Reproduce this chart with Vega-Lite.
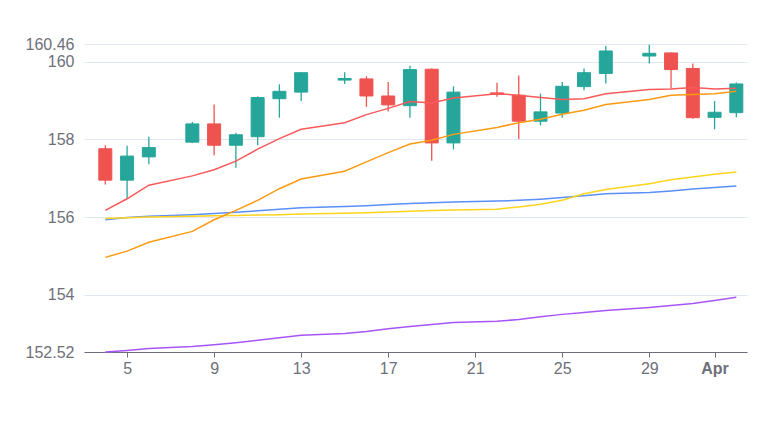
{
  "$schema": "https://vega.github.io/schema/vega-lite/v6.json",
  "autosize": {"type": "none"},
  "padding": {"left": 84, "top": 44, "right": 23, "bottom": 92},
  "width": 663,
  "height": 308,
  "background": "#ffffff",
  "config": {"view": {"stroke": null}, "font": "Liberation Sans"},
  "data": {"values": [
    {"date": "2024-03-04", "open": 157.76, "high": 157.85, "low": 156.84, "close": 156.95, "ma5": 156.17, "ma10": 154.96, "ma20": 155.96, "ma30": 155.93, "ma60": 152.52},
    {"date": "2024-03-05", "open": 156.95, "high": 157.84, "low": 156.47, "close": 157.57, "ma5": 156.47, "ma10": 155.12, "ma20": 155.98, "ma30": 155.99, "ma60": 152.56},
    {"date": "2024-03-06", "open": 157.55, "high": 158.07, "low": 157.36, "close": 157.79, "ma5": 156.82, "ma10": 155.35, "ma20": 156.0, "ma30": 156.02, "ma60": 152.61},
    {"date": "2024-03-08", "open": 157.93, "high": 158.45, "low": 157.91, "close": 158.4, "ma5": 157.06, "ma10": 155.63, "ma20": 156.02, "ma30": 156.06, "ma60": 152.66},
    {"date": "2024-03-09", "open": 158.4, "high": 158.9, "low": 157.59, "close": 157.85, "ma5": 157.22, "ma10": 155.93, "ma20": 156.03, "ma30": 156.09, "ma60": 152.71},
    {"date": "2024-03-10", "open": 157.85, "high": 158.17, "low": 157.27, "close": 158.12, "ma5": 157.44, "ma10": 156.17, "ma20": 156.04, "ma30": 156.12, "ma60": 152.76},
    {"date": "2024-03-11", "open": 158.07, "high": 159.11, "low": 157.85, "close": 159.08, "ma5": 157.75, "ma10": 156.43, "ma20": 156.05, "ma30": 156.16, "ma60": 152.82},
    {"date": "2024-03-12", "open": 159.05, "high": 159.42, "low": 158.56, "close": 159.24, "ma5": 158.02, "ma10": 156.73, "ma20": 156.06, "ma30": 156.2, "ma60": 152.89},
    {"date": "2024-03-13", "open": 159.22, "high": 159.74, "low": 158.99, "close": 159.72, "ma5": 158.26, "ma10": 156.98, "ma20": 156.08, "ma30": 156.24, "ma60": 152.95},
    {"date": "2024-03-15", "open": 159.53, "high": 159.73, "low": 159.43, "close": 159.57, "ma5": 158.43, "ma10": 157.18, "ma20": 156.1, "ma30": 156.27, "ma60": 153.0},
    {"date": "2024-03-16", "open": 159.56, "high": 159.63, "low": 158.84, "close": 159.12, "ma5": 158.64, "ma10": 157.42, "ma20": 156.11, "ma30": 156.29, "ma60": 153.05},
    {"date": "2024-03-17", "open": 159.12, "high": 159.48, "low": 158.72, "close": 158.89, "ma5": 158.8, "ma10": 157.66, "ma20": 156.13, "ma30": 156.32, "ma60": 153.12},
    {"date": "2024-03-18", "open": 158.87, "high": 159.9, "low": 158.56, "close": 159.8, "ma5": 158.98, "ma10": 157.88, "ma20": 156.15, "ma30": 156.35, "ma60": 153.18},
    {"date": "2024-03-19", "open": 159.81, "high": 159.83, "low": 157.45, "close": 157.91, "ma5": 158.94, "ma10": 157.98, "ma20": 156.17, "ma30": 156.37, "ma60": 153.23},
    {"date": "2024-03-20", "open": 157.91, "high": 159.37, "low": 157.74, "close": 159.22, "ma5": 159.07, "ma10": 158.13, "ma20": 156.18, "ma30": 156.39, "ma60": 153.28},
    {"date": "2024-03-22", "open": 159.2, "high": 159.46, "low": 159.1, "close": 159.16, "ma5": 159.18, "ma10": 158.31, "ma20": 156.2, "ma30": 156.41, "ma60": 153.31},
    {"date": "2024-03-23", "open": 159.14, "high": 159.65, "low": 158.01, "close": 158.47, "ma5": 159.14, "ma10": 158.43, "ma20": 156.26, "ma30": 156.43, "ma60": 153.36},
    {"date": "2024-03-24", "open": 158.47, "high": 159.18, "low": 158.36, "close": 158.71, "ma5": 159.08, "ma10": 158.52, "ma20": 156.33, "ma30": 156.46, "ma60": 153.43},
    {"date": "2024-03-25", "open": 158.68, "high": 159.48, "low": 158.56, "close": 159.37, "ma5": 159.03, "ma10": 158.65, "ma20": 156.43, "ma30": 156.5, "ma60": 153.49},
    {"date": "2024-03-26", "open": 159.36, "high": 159.83, "low": 159.27, "close": 159.72, "ma5": 159.05, "ma10": 158.75, "ma20": 156.6, "ma30": 156.55, "ma60": 153.54},
    {"date": "2024-03-27", "open": 159.7, "high": 160.41, "low": 159.44, "close": 160.28, "ma5": 159.18, "ma10": 158.9, "ma20": 156.71, "ma30": 156.6, "ma60": 153.59},
    {"date": "2024-03-29", "open": 160.15, "high": 160.44, "low": 159.96, "close": 160.22, "ma5": 159.29, "ma10": 159.03, "ma20": 156.86, "ma30": 156.63, "ma60": 153.67},
    {"date": "2024-03-30", "open": 160.23, "high": 160.24, "low": 159.31, "close": 159.8, "ma5": 159.3, "ma10": 159.14, "ma20": 156.96, "ma30": 156.67, "ma60": 153.72},
    {"date": "2024-03-31", "open": 159.83, "high": 159.96, "low": 158.53, "close": 158.56, "ma5": 159.34, "ma10": 159.16, "ma20": 157.03, "ma30": 156.72, "ma60": 153.77},
    {"date": "2024-04-01", "open": 158.57, "high": 158.99, "low": 158.26, "close": 158.7, "ma5": 159.3, "ma10": 159.18, "ma20": 157.1, "ma30": 156.76, "ma60": 153.85},
    {"date": "2024-04-02", "open": 158.69, "high": 159.47, "low": 158.57, "close": 159.43, "ma5": 159.32, "ma10": 159.24, "ma20": 157.16, "ma30": 156.8, "ma60": 153.93}
  ]},
  "encoding": {
    "x": {
      "field": "date", "type": "temporal",
      "scale": {"type": "utc", "domain": [
        {"year": 2024, "month": 3, "date": 3, "hours": 6, "utc": true},
        {"year": 2024, "month": 4, "date": 2, "hours": 6, "minutes": 15, "utc": true}
      ]},
      "axis": {
        "title": null,
        "grid": false,
        "values": [
          {"year": 2024, "month": 3, "date": 5, "utc": true},
          {"year": 2024, "month": 3, "date": 9, "utc": true},
          {"year": 2024, "month": 3, "date": 13, "utc": true},
          {"year": 2024, "month": 3, "date": 17, "utc": true},
          {"year": 2024, "month": 3, "date": 21, "utc": true},
          {"year": 2024, "month": 3, "date": 25, "utc": true},
          {"year": 2024, "month": 3, "date": 29, "utc": true},
          {"year": 2024, "month": 4, "date": 1, "utc": true}
        ],
        "labelExpr": "utcdate(datum.value) == 1 ? utcFormat(datum.value, '%b') : '' + utcdate(datum.value)",
        "labelFontWeight": {"condition": {"test": "utcdate(datum.value) == 1", "value": "bold"}, "value": "normal"},
        "labelFontSize": 16,
        "labelColor": "#6e7079",
        "labelPadding": 3,
        "labelFlush": false,
        "labelOverlap": false,
        "domainColor": "#6e7079",
        "tickColor": "#6e7079",
        "tickSize": 5
      }
    }
  },
  "layer": [
    {
      "mark": {"type": "rule", "strokeWidth": 1.3},
      "encoding": {
        "y": {
          "field": "low", "type": "quantitative",
          "scale": {"domain": [152.52, 160.46], "nice": false, "zero": false},
          "axis": {
            "title": null,
            "values": [152.52, 154, 156, 158, 160, 160.46],
            "labelExpr": "toString(datum.value)",
            "grid": true,
            "gridColor": "#e0e6f1",
            "domain": false,
            "ticks": false,
            "labelFontSize": 16,
            "labelColor": "#6e7079",
            "labelPadding": 10,
            "labelOverlap": false,
            "labelFlush": false
          }
        },
        "y2": {"field": "high"},
        "color": {
          "condition": {"test": "datum.close >= datum.open", "value": "#26a69a"},
          "value": "#ef5350"
        }
      }
    },
    {
      "mark": {"type": "bar", "size": 13, "strokeWidth": 1},
      "encoding": {
        "y": {"field": "open", "type": "quantitative"},
        "y2": {"field": "close"},
        "color": {
          "condition": {"test": "datum.close >= datum.open", "value": "#26a69a"},
          "value": "#ef5350"
        },
        "stroke": {
          "condition": {"test": "datum.close >= datum.open", "value": "#26a69a"},
          "value": "#ef5350"
        }
      }
    },
    {
      "transform": [{"fold": ["ma60", "ma30", "ma20", "ma10", "ma5"], "as": ["series", "value"]}],
      "mark": {"type": "line", "strokeWidth": 1.5},
      "encoding": {
        "y": {"field": "value", "type": "quantitative"},
        "color": {
          "field": "series", "type": "nominal",
          "scale": {"domain": ["ma5", "ma10", "ma20", "ma30", "ma60"], "range": ["#f85959", "#fb9a12", "#fdd41c", "#5b8ff9", "#a855f7"]},
          "legend": null
        },
        "detail": {"field": "series"}
      }
    }
  ]
}
